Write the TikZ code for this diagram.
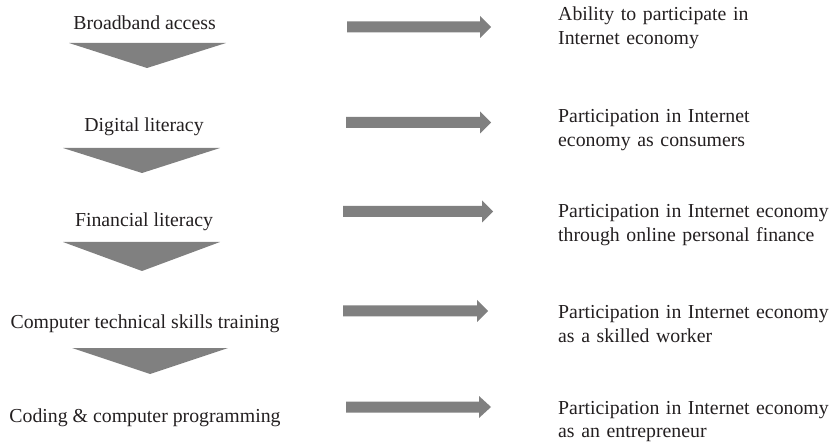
\documentclass[tikz,border=0pt]{standalone}
\usepackage{fontspec}
\setmainfont{Liberation Serif}
\definecolor{arrgray}{HTML}{808080}
\definecolor{txt}{HTML}{231F20}
\newcommand{\BlkArrow}[5]{% name, x start, x head, x tip, y
  \coordinate (#1s) at (#2,#5);
  \coordinate (#1e) at (#4,#5);
  \fill[arrgray] (#2,#5-5.5) -- (#3,#5-5.5) -- (#3,#5-11) -- (#4,#5) -- (#3,#5+11) -- (#3,#5+5.5) -- (#2,#5+5.5) -- cycle;
}
\begin{document}
\begin{tikzpicture}[x=1pt,y=-1pt,
  lefttext/.style={anchor=base, inner sep=0pt, font=\fontsize{19.8}{23.5}\selectfont, text=txt},
  righttext/.style={anchor=base west, inner sep=0pt, text width=300pt, align=left, font=\fontsize{19.8}{23.5}\selectfont, text=txt},
  tri/.style={fill=arrgray}]
\useasboundingbox (0,0) rectangle (832,443);
% left texts
\node[lefttext] (l1) at (144.5,30) {Broadband access};
\node[lefttext] (l2) at (144,132) {Digital literacy};
\node[lefttext] (l3) at (144,227) {Financial literacy};
\node[lefttext] (l4) at (145,328) {Computer technical skills training};
\node[lefttext] (l5) at (145,422) {Coding \& computer programming};
% triangles
\fill[tri] (69,43) -- (226,43) -- (147,68) -- cycle;
\fill[tri] (63,148) -- (220,148) -- (142,173) -- cycle;
\fill[tri] (63,242) -- (220,242) -- (142,271) -- cycle;
\fill[tri] (72,348) -- (228,348) -- (150,374) -- cycle;
% arrows
\BlkArrow{a1}{347}{480}{491}{27}
\BlkArrow{a2}{346}{480}{491}{122.5}
\BlkArrow{a3}{343}{482}{493}{211.5}
\BlkArrow{a4}{343}{477}{488}{311}
\BlkArrow{a5}{346}{479}{491}{407}
% right texts
\node[righttext] (r1) at (558,21) {Ability to participate in\\Internet economy};
\node[righttext] (r2) at (558,123) {Participation in Internet\\economy as consumers};
\node[righttext] (r3) at (558,218) {Participation in Internet economy\\through online personal finance};
\node[righttext] (r4) at (558,319) {Participation in Internet economy\\as a skilled worker};
\node[righttext] (r5) at (558,414) {Participation in Internet economy\\as an entrepreneur};
\end{tikzpicture}
\end{document}
